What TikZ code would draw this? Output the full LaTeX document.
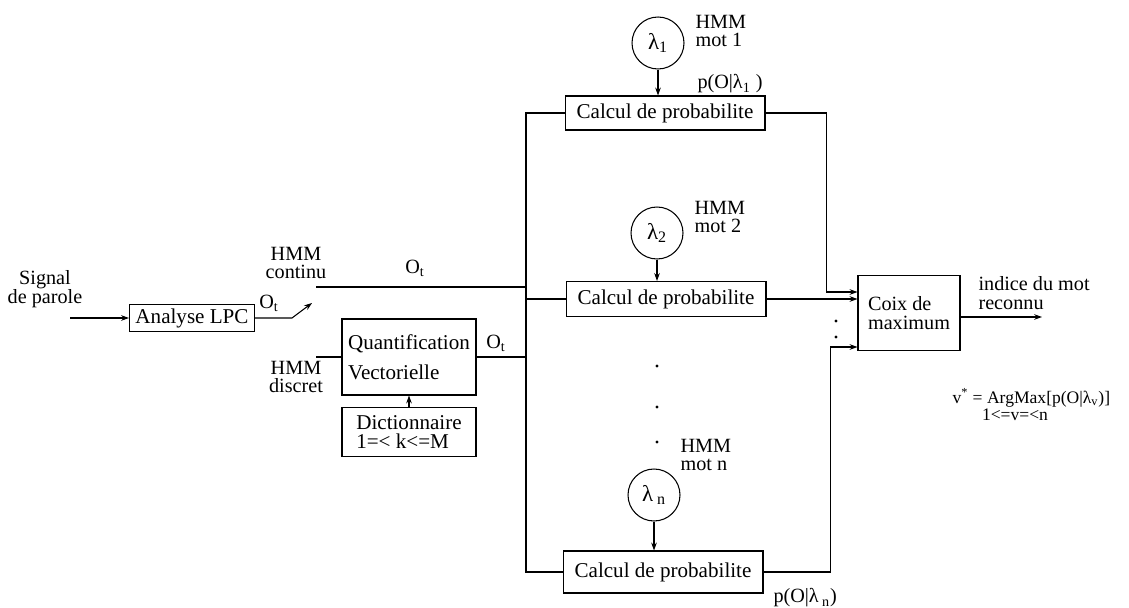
\documentclass[tikz,border=0pt]{standalone}
\usepackage{fontspec}
\setmainfont{Liberation Serif}
\usetikzlibrary{arrows.meta, positioning, calc}

\begin{document}
\begin{tikzpicture}[x=0.02cm, y=-0.02cm, line width=0.6pt,
    blk/.style={draw, inner sep=2pt, font=\fontsize{12}{13}\selectfont},
    mdl/.style={draw, circle, minimum size=1.04cm, inner sep=0pt, font=\fontsize{13}{14}\selectfont},
    lbl/.style={inner sep=0pt, align=center, font=\fontsize{11.5}{10.5}\selectfont},
    arr/.style={-{Stealth[length=4.5pt, width=3.2pt]}}]
  \useasboundingbox (0,0) rectangle (1129,608);

  % entree et analyse
  \node[lbl] (sig) at (45,289) {Signal\\de parole};
  \coordinate (sigin) at (70,318);
  \node[blk, minimum width=2.5cm, minimum height=0.54cm] (lpc) at (192,318) {Analyse LPC};
  \node[lbl] (otlpc) at (269,303) {O\textsubscript{t}};
  \coordinate (swa) at (292,318);
  \coordinate (swb) at (312,303);
  \draw[arr] (sigin) -- (lpc.west);
  \draw[arr] (lpc.east) -- (swa) -- (swb);

  % deux branches HMM
  \node[lbl] (cont) at (296,263) {HMM\\continu};
  \node[lbl] (disc) at (296,377) {HMM\\discret};
  \coordinate (contin) at (316,287);
  \coordinate (discin) at (316,357);
  \node[lbl] (otc) at (415,268) {O\textsubscript{t}};
  \node[blk, minimum width=2.68cm, minimum height=1.52cm, align=left] (quant) at (409,357) {Quantification\\[4pt]Vectorielle};
  \node[blk, minimum width=2.68cm, minimum height=0.98cm, align=left, font=\fontsize{12}{11}\selectfont] (dict) at (409,432) {Dictionnaire\\1=< k<=M};
  \node[lbl] (otq) at (496,343) {O\textsubscript{t}};
  \draw (discin) -- (quant.west);
  \draw[arr] (dict.north) -- (quant.south);

  % modeles de mots
  \node[mdl] (lam1) at (658,43) {λ\textsubscript{1}};
  \node[mdl] (lam2) at (657,233) {λ\textsubscript{2}};
  \node[mdl] (lamn) at (654,495) {λ\,\textsubscript{n}};
  \node[lbl, align=left, anchor=west] (hmm1) at (695,31) {HMM\\mot 1};
  \node[lbl, align=left, anchor=west] (hmm2) at (694,217) {HMM\\mot 2};
  \node[lbl, align=left, anchor=west] (hmmn) at (680,455) {HMM\\mot n};
  \node[blk, minimum width=4cm, minimum height=0.68cm] (calc1) at (665,113) {Calcul de probabilite};
  \node[blk, minimum width=4cm, minimum height=0.7cm] (calc2) at (666,299) {Calcul de probabilite};
  \node[blk, minimum width=4cm, minimum height=0.84cm] (calcn) at (663,572) {Calcul de probabilite};
  \node[lbl, anchor=west] (p1) at (697,84) {p(O|λ\textsubscript{1} )};
  \node[lbl, anchor=west] (pn) at (773,598) {p(O|λ\,\textsubscript{n})};
  \draw[arr] (lam1) -- (lam1 |- calc1.north);
  \draw[arr] (lam2) -- (lam2 |- calc2.north);
  \draw[arr] (lamn) -- (lamn |- calcn.north);
  \foreach \yy in {366,407,442}
    \fill (657,\yy) circle (0.9pt);

  % bus d'observations
  \coordinate (bus) at (526,0);
  \draw (calc1.west) -| (bus |- calcn.west) -- (calcn.west);
  \draw (bus |- calc2.west) -- (calc2.west);
  \draw (contin) -- (contin -| bus);
  \draw (quant.east) -- (quant.east -| bus);

  % decision
  \node[blk, minimum width=2.04cm, minimum height=1.5cm, align=left, font=\fontsize{11.5}{10.5}\selectfont] (coix) at (909,313) {Coix de\\maximum};
  \coordinate (in1) at ($(coix.west)+(0,-21)$);
  \coordinate (inn) at ($(coix.west)+(0,34)$);
  \draw[arr] (calc1.east) -| ($(in1)+(-31,0)$) -- (in1);
  \draw[arr] (calc2.east) -- (calc2.east -| coix.west);
  \draw[arr] (calcn.east) -| ($(inn)+(-27,0)$) -- (inn);
  \foreach \yy in {321,337}
    \fill (836,\yy) circle (0.9pt);
  \coordinate (res) at (1042,317);
  \draw[arr] (coix.east |- res) -- (res);
  \node[lbl, align=left, anchor=west] (idx) at (978,293) {indice du mot\\reconnu};
  \node[lbl, anchor=west, font=\fontsize{10}{11}\selectfont] (amax) at (952,398) {v\textsuperscript{*} = ArgMax[p(O|λ\textsubscript{v})]};
  \node[lbl, font=\fontsize{10}{11}\selectfont] (rng) at (1015,415) {1<=v=<n};
\end{tikzpicture}
\end{document}
